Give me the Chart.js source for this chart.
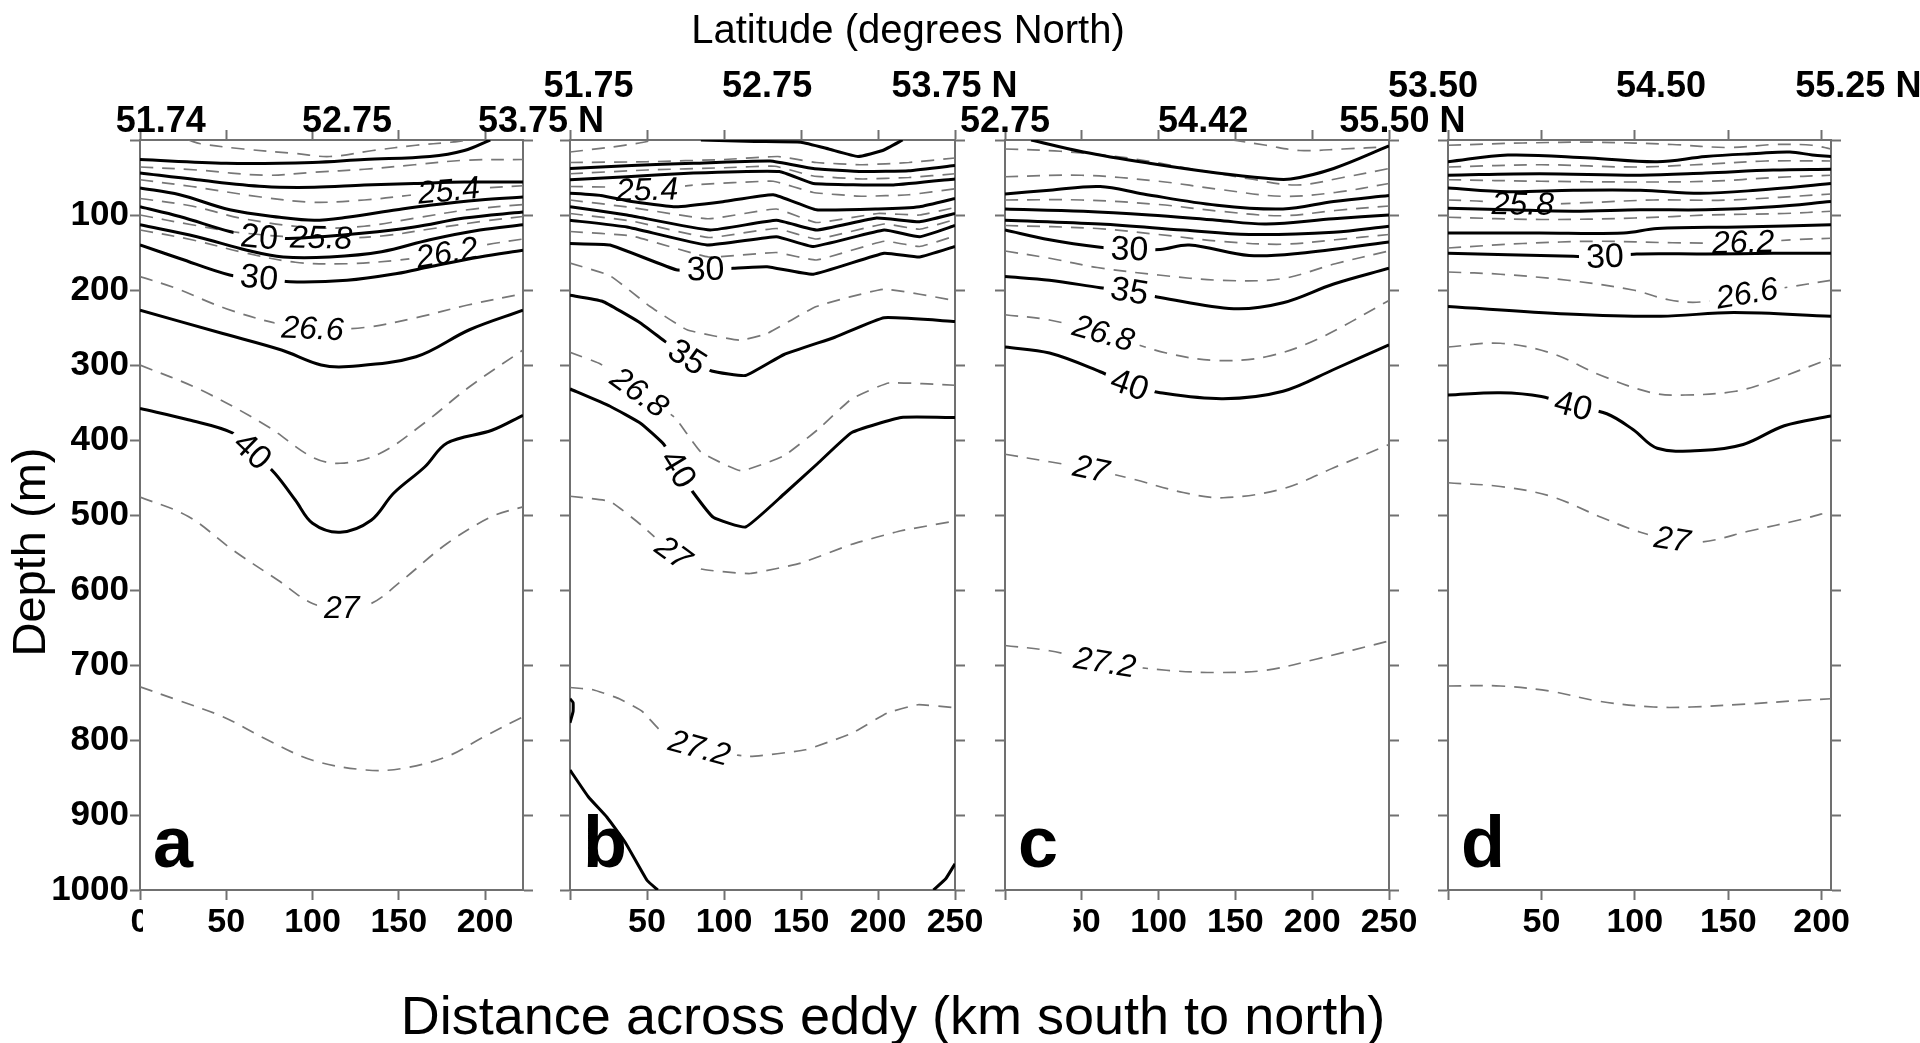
<!DOCTYPE html>
<html>
<head>
<meta charset="utf-8">
<title>Eddy sections</title>
<script src="https://cdn.jsdelivr.net/npm/chart.js@4.4.1/dist/chart.umd.min.js"></script>
<style>
  html, body { margin: 0; padding: 0; background: #fff; }
  body { width: 1920px; height: 1043px; position: relative; overflow: hidden; }
  canvas.panel { position: absolute; left: 0; top: 0; }
</style>
</head>
<body>
<script>
// ---------- values: each contour is a list of [distance km, depth m] ----------
const distTicks = [0, 50, 100, 150, 200, 250];
const depthTicks = [0, 100, 200, 300, 400, 500, 600, 700, 800, 900, 1000];
const sectionLength = [222, 250, 250, 205];
const letters = ['a', 'b', 'c', 'd'];

// latitude marks along the top of each section
const latA = ['51.74', '52.75', '53.75'], latAKm = [12, 120, 222];
const latB = ['51.75', '52.75', '53.75'], latBKm = [12, 128, 238];
const latC = ['52.75', '54.42', '55.50'], latCKm = [0, 129, 247];
const latD = ['53.50', '54.50', '55.25'], latDKm = [-8, 114, 210];

// section a
const aSolid = [
  [[0,26],[50,31],[100,30],[130,26],[168,22],[188,14],[203,0]],
  [[0,44],[33,53],[72,62],[101,63],[130,60],[159,58],[188,56],[222,56]],
  [[0,64],[23,73],[52,93],[81,103],[101,107],[120,103],[149,93],[168,87],[197,80],[222,76]],
  [[0,89],[23,102],[52,122],[69,130],[90,131],[130,124],[159,116],[188,104],[222,96]],
  [[0,113],[33,129],[62,147],[83,156],[110,156],[140,149],[168,133],[197,120],[222,113]],
  [[0,140],[23,158],[52,180],[69,184],[87,189],[120,187],[149,178],[168,169],[197,156],[222,147]],
  [[0,227],[48,258],[82,280],[105,300],[121,302],[160,289],[191,253],[222,227]],
  [[0,358],[28,373],[54,391],[65,415],[78,444],[90,480],[100,511],[116,523],[134,507],[147,471],[165,436],[178,404],[204,387],[222,367]]
];
const aDashed = [
  [[28,0],[35,5],[60,12],[90,18],[110,22],[135,14],[160,7],[180,3],[190,0]],
  [[0,36],[33,40],[72,47],[101,43],[130,39],[159,33],[188,27],[222,26]],
  [[0,53],[30,62],[70,76],[100,83],[130,80],[155,74],[179,68],[200,64],[222,61]],
  [[0,78],[30,88],[60,105],[100,117],[130,115],[160,104],[190,93],[222,86]],
  [[0,100],[30,113],[60,124],[105,131],[140,128],[170,118],[200,108],[222,102]],
  [[0,120],[30,133],[60,150],[90,163],[120,165],[150,160],[178,151],[200,140],[222,132]],
  [[0,182],[20,197],[50,225],[80,245],[100,252],[130,250],[160,237],[190,220],[222,205]],
  [[0,300],[35,333],[74,382],[100,423],[116,431],[139,418],[165,377],[191,329],[222,280]],
  [[0,476],[28,502],[54,547],[80,587],[100,618],[117,624],[134,618],[152,587],[178,538],[204,502],[222,489]],
  [[0,729],[22,747],[48,769],[74,800],[100,827],[131,840],[152,838],[178,822],[199,796],[222,769]]
];
const aSolidTags = [[3, 69, '20'], [5, 69, '30'], [7, 65, '40']];
const aDashedTags = [[2, 179, '25.4'], [4, 105, '25.8'], [5, 178, '26.2'], [6, 100, '26.6'], [8, 117, '27']];

// section b
const bSolid = [
  [[85,0],[120,2],[150,3],[168,12],[187,22],[203,14],[216,0]],
  [[0,38],[40,34],[80,31],[130,28],[158,38],[190,42],[220,41],[250,34]],
  [[0,53],[37,49],[80,44],[136,42],[158,58],[210,60],[250,52]],
  [[0,71],[20,74],[40,82],[69,89],[100,82],[132,73],[160,93],[200,92],[227,89],[250,78]],
  [[0,89],[37,100],[91,120],[134,107],[160,120],[199,104],[227,109],[250,98]],
  [[0,107],[37,116],[89,140],[134,129],[158,142],[204,120],[227,129],[250,114]],
  [[0,138],[26,140],[69,173],[88,173],[106,171],[128,169],[158,179],[204,151],[227,156],[250,142]],
  [[0,207],[21,215],[45,243],[60,266],[76,290],[92,308],[114,314],[139,286],[172,263],[204,237],[250,242]],
  [[0,332],[26,355],[46,378],[61,406],[70,439],[80,470],[93,503],[114,516],[139,472],[161,431],[183,390],[215,370],[250,370]],
  [[0,840],[12,876],[24,903],[36,937],[50,987],[57,1000]],
  [[0,745],[2,750],[2,762],[0,777]],
  [[236,1000],[244,985],[250,965]]
];
const bDashed = [
  [[0,16],[25,10],[45,4],[55,0]],
  [[0,30],[50,29],[100,26],[135,22],[160,30],[190,33],[220,30],[250,24]],
  [[0,45],[50,40],[100,37],[133,35],[158,48],[190,52],[220,50],[250,45]],
  [[0,62],[30,63],[50,67],[80,60],[132,55],[158,70],[190,75],[220,73],[250,65]],
  [[0,80],[40,90],[90,105],[134,92],[160,110],[200,98],[227,100],[250,90]],
  [[0,98],[40,108],[90,130],[134,118],[160,132],[204,112],[227,119],[250,106]],
  [[0,122],[40,128],[90,156],[134,150],[160,160],[204,135],[227,142],[250,128]],
  [[0,164],[26,181],[52,222],[76,253],[110,267],[128,258],[160,222],[204,199],[250,214]],
  [[0,283],[20,299],[45,337],[68,370],[85,416],[111,441],[139,421],[161,386],[183,345],[207,324],[250,327]],
  [[0,475],[26,482],[46,513],[67,551],[85,572],[117,578],[150,564],[183,539],[215,521],[250,508]],
  [[0,730],[15,733],[32,745],[47,762],[60,790],[84,811],[116,822],[153,813],[183,791],[206,764],[226,753],[250,757]]
];
const bSolidTags = [[6, 88, '30'], [7, 76, '35'], [8, 70, '40']];
const bDashedTags = [[3, 50, '25.4'], [8, 45, '26.8'], [9, 67, '27'], [10, 84, '27.2']];

// section c
const cSolid = [
  [[17,0],[51,16],[94,31],[138,44],[170,51],[186,52],[214,38],[250,8]],
  [[0,72],[29,67],[62,62],[90,72],[138,87],[181,92],[214,82],[250,74]],
  [[0,92],[51,95],[94,100],[138,107],[170,112],[214,105],[250,100]],
  [[0,107],[62,112],[116,120],[159,126],[214,123],[250,115]],
  [[0,120],[29,133],[62,143],[81,146],[101,146],[120,140],[159,154],[192,151],[250,136]],
  [[0,182],[29,187],[62,197],[81,202],[101,210],[149,225],[181,217],[214,192],[250,171]],
  [[0,276],[29,284],[62,309],[81,327],[101,337],[142,345],[181,335],[214,306],[250,273]]
];
const cDashed = [
  [[148,0],[170,7],[192,14],[220,12],[250,9]],
  [[0,12],[36,15],[80,24],[120,38],[160,52],[190,60],[220,50],[250,38]],
  [[0,49],[50,47],[100,55],[140,66],[180,75],[215,70],[250,58]],
  [[0,80],[50,80],[100,86],[140,95],[180,101],[215,94],[250,88]],
  [[0,114],[60,118],[100,126],[140,135],[180,139],[215,133],[250,126]],
  [[0,148],[30,158],[60,170],[100,180],[140,187],[180,185],[215,165],[250,148]],
  [[0,233],[29,240],[64,258],[105,284],[138,294],[170,289],[203,266],[250,214]],
  [[0,419],[29,429],[56,439],[83,452],[116,470],[142,477],[181,465],[214,437],[250,406]],
  [[0,674],[29,681],[65,697],[105,707],[138,710],[170,707],[203,692],[250,668]]
];
const cSolidTags = [[4, 81, '30'], [5, 81, '35'], [6, 81, '40']];
const cDashedTags = [[6, 64, '26.8'], [7, 56, '27'], [8, 65, '27.2']];

// section d
const dSolid = [
  [[0,29],[32,20],[76,24],[112,29],[138,22],[165,18],[183,16],[195,20],[205,22]],
  [[0,47],[49,45],[103,47],[138,44],[174,40],[205,39]],
  [[0,64],[32,69],[67,67],[103,67],[135,71],[165,67],[205,58]],
  [[0,91],[32,93],[67,95],[103,93],[138,93],[174,89],[205,82]],
  [[0,124],[49,124],[94,124],[112,118],[156,116],[205,113]],
  [[0,151],[32,153],[67,155],[84,156],[101,152],[138,152],[174,151],[205,151]],
  [[0,222],[64,232],[114,235],[153,230],[205,235]],
  [[0,340],[28,337],[50,342],[67,355],[85,365],[99,386],[112,411],[135,414],[158,406],[180,381],[205,368]]
];
const dDashed = [
  [[0,7],[40,4],[80,3],[120,6],[150,10],[175,6],[195,7],[205,12]],
  [[0,36],[50,33],[100,36],[140,32],[170,28],[205,28]],
  [[0,53],[50,55],[100,56],[140,55],[175,50],[205,47]],
  [[0,80],[20,82],[40,86],[70,84],[110,80],[150,80],[205,72]],
  [[0,103],[50,106],[100,104],[140,100],[180,98],[205,95]],
  [[0,144],[40,138],[80,135],[120,137],[158,137],[185,133],[205,131]],
  [[0,176],[28,179],[64,187],[99,200],[118,213],[135,216],[160,205],[180,197],[205,187]],
  [[0,276],[28,271],[55,284],[82,314],[109,337],[127,340],[154,335],[172,322],[205,291]],
  [[0,457],[28,462],[55,475],[82,503],[103,523],[120,533],[136,536],[162,521],[189,506],[205,495]],
  [[0,728],[28,728],[55,735],[80,748],[110,756],[130,756],[160,752],[190,747],[205,745]]
];
const dSolidTags = [[5, 84, '30'], [7, 67, '40']];
const dDashedTags = [[3, 40, '25.8'], [5, 158, '26.2'], [6, 160, '26.6'], [8, 120, '27']];

// ---------- layout ----------
const W = 1920, H = 1043;
const TOP = 140, BOTTOM = 890;
const BOX = { left: 130, right: 12, top: 12, bottom: 60 };   // axis box sizes, labels must fit inside
const FRAME = '#707070';
const FONT = '"Liberation Sans", Arial, Helvetica, sans-serif';

const panels = [
  { solid: aSolid, dashed: aDashed, solidTags: aSolidTags, dashedTags: aDashedTags, lat: latA, latKm: latAKm,
    len: sectionLength[0], letter: letters[0], row: 'low', left: 140, right: 523, tension: 0.35,
    depthLabels: true, hideZero: false, cut: [0, 3, 14], titles: true },
  { solid: bSolid, dashed: bDashed, solidTags: bSolidTags, dashedTags: bDashedTags, lat: latB, latKm: latBKm,
    len: sectionLength[1], letter: letters[1], row: 'up', left: 570, right: 955, tension: 0.12,
    depthLabels: false, hideZero: true, cut: null, titles: false },
  { solid: cSolid, dashed: cDashed, solidTags: cSolidTags, dashedTags: cDashedTags, lat: latC, latKm: latCKm,
    len: sectionLength[2], letter: letters[2], row: 'low', left: 1005, right: 1389, tension: 0.35,
    depthLabels: false, hideZero: true, cut: [50, -21, -8], titles: false },
  { solid: dSolid, dashed: dDashed, solidTags: dSolidTags, dashedTags: dDashedTags, lat: latD, latKm: latDKm,
    len: sectionLength[3], letter: letters[3], row: 'up', left: 1448, right: 1831, tension: 0.35,
    depthLabels: false, hideZero: true, cut: null, titles: false }
];

// where a tag sits on its contour, and the contour's direction there
function tagSpot(chart, t) {
  const meta = chart.getDatasetMeta(t.ds);
  const src = chart.data.datasets[t.ds].data;
  const i = src.findIndex(p => p.x === t.km);
  if (i < 0 || !meta.data[i]) return null;
  const pts = meta.data;
  const prev = pts[Math.max(i - 1, 0)], next = pts[Math.min(i + 1, pts.length - 1)];
  return { x: pts[i].x, y: pts[i].y, a: Math.atan2(next.y - prev.y, next.x - prev.x) };
}

function tagFont(t) {
  return t.italic ? 'italic 32px ' + FONT : '34px ' + FONT;
}

// contour labels: cut a gap in the line, then write the value along it
const contourTags = {
  id: 'contourTags',
  beforeDatasetDraw(chart, args, opts) {
    const tags = opts.items.filter(t => t.ds === args.index);
    if (!tags.length) return;
    const ctx = chart.ctx;
    ctx.save();
    ctx.beginPath();
    ctx.rect(0, 0, chart.width, chart.height);
    tags.forEach(t => {
      const s = tagSpot(chart, t);
      if (!s) return;
      ctx.font = tagFont(t);
      const hw = ctx.measureText(t.text).width / 2 + 7, hh = 15;
      const c = Math.cos(s.a), sn = Math.sin(s.a);
      [[-hw, -hh], [hw, -hh], [hw, hh], [-hw, hh]].forEach(([u, v], k) => {
        const X = s.x + u * c - v * sn, Y = s.y + u * sn + v * c;
        if (k) ctx.lineTo(X, Y); else ctx.moveTo(X, Y);
      });
      ctx.closePath();
    });
    ctx.clip('evenodd');
    chart.$tagClip = true;
  },
  afterDatasetDraw(chart) {
    if (chart.$tagClip) {
      chart.ctx.restore();
      chart.$tagClip = false;
    }
  },
  afterDatasetsDraw(chart, args, opts) {
    const ctx = chart.ctx;
    opts.items.forEach(t => {
      const s = tagSpot(chart, t);
      if (!s) return;
      ctx.save();
      ctx.translate(s.x, s.y);
      ctx.rotate(s.a);
      ctx.font = tagFont(t);
      ctx.fillStyle = '#000';
      ctx.textAlign = 'center';
      ctx.textBaseline = 'middle';
      ctx.fillText(t.text, 0, 1);
      ctx.restore();
    });
  }
};

// latitude row, panel letter, figure titles
const sectionDecor = {
  id: 'sectionDecor',
  afterDraw(chart, args, o) {
    const ctx = chart.ctx, area = chart.chartArea, xs = chart.scales.x;
    ctx.save();
    if (o.cut) {
      const px = xs.getPixelForValue(o.cut[0]);
      ctx.fillStyle = '#fff';
      ctx.fillRect(px + o.cut[1], area.bottom + 12, o.cut[2] - o.cut[1], 40);
    }
    ctx.fillStyle = '#000';
    ctx.textBaseline = 'alphabetic';
    ctx.textAlign = 'left';
    ctx.font = 'bold 36px ' + FONT;
    const base = o.row === 'up' ? area.top - 43 : area.top - 8;
    o.lat.forEach((t, i) => {
      const cx = xs.getPixelForValue(o.latKm[i]);
      const w = ctx.measureText(t).width;
      ctx.fillText(i === o.lat.length - 1 ? t + ' N' : t, cx - w / 2, base);
    });
    ctx.font = 'bold 72px ' + FONT;
    ctx.fillText(o.letter, area.left + 13, area.bottom - 23);
    if (o.titles) {
      ctx.textAlign = 'center';
      ctx.font = '40px ' + FONT;
      ctx.fillText('Latitude (degrees North)', 908, 43);
      ctx.font = '54px ' + FONT;
      ctx.fillText('Distance across eddy (km south to north)', 893, 1034);
      ctx.translate(45, 552);
      ctx.rotate(-Math.PI / 2);
      ctx.font = '47px ' + FONT;
      ctx.fillText('Depth (m)', 0, 0);
    }
    ctx.restore();
  }
};

function scale(position, max, values, opts) {
  const vertical = position === 'left' || position === 'right';
  return {
    type: 'linear',
    position,
    min: 0,
    max,
    reverse: vertical,
    afterBuildTicks: s => { s.ticks = values.filter(v => v <= max + 0.5).map(v => ({ value: v })); },
    afterFit: s => { if (vertical) s.width = BOX[position]; else s.height = BOX[position]; },
    ticks: {
      display: !!opts.labels,
      callback: opts.labels || (() => ''),
      font: { family: FONT, size: opts.size || 34, weight: 'bold' },
      color: '#000',
      padding: opts.pad || 2,
      autoSkip: false,
      maxRotation: 0,
      minRotation: 0
    },
    grid: { drawOnChartArea: false, drawTicks: true, tickLength: 10, tickWidth: 2, tickColor: FRAME },
    border: { display: true, color: FRAME, width: 2 }
  };
}

function buildPanel(p) {
  const canvas = document.createElement('canvas');
  canvas.className = 'panel';
  canvas.width = W;
  canvas.height = H;
  document.body.appendChild(canvas);

  const asPoints = line => line.map(([x, y]) => ({ x, y }));
  const datasets = [];
  p.solid.forEach(line => datasets.push({
    data: asPoints(line), borderColor: '#000', borderWidth: 3, pointRadius: 0,
    tension: p.tension, fill: false
  }));
  p.dashed.forEach(line => datasets.push({
    data: asPoints(line), borderColor: '#777', borderWidth: 1.7, borderDash: [13, 9], pointRadius: 0,
    tension: p.tension, fill: false
  }));
  const items = [
    ...p.solidTags.map(([i, km, text]) => ({ ds: i, km, text, italic: false })),
    ...p.dashedTags.map(([i, km, text]) => ({ ds: p.solid.length + i, km, text, italic: true }))
  ];

  new Chart(canvas, {
    type: 'line',
    data: { datasets },
    options: {
      responsive: false,
      animation: false,
      devicePixelRatio: 1,
      events: [],
      layout: {
        padding: {
          left: p.left - BOX.left,
          right: W - p.right - BOX.right,
          top: TOP - BOX.top,
          bottom: H - BOTTOM - BOX.bottom
        }
      },
      plugins: {
        legend: { display: false },
        tooltip: { enabled: false },
        contourTags: { items },
        sectionDecor: { lat: p.lat, latKm: p.latKm, row: p.row, letter: p.letter, cut: p.cut, titles: p.titles }
      },
      scales: {
        x: scale('bottom', p.len, distTicks, { labels: v => (p.hideZero && v === 0 ? '' : String(v)) }),
        xTop: scale('top', p.len, distTicks, {}),
        y: scale('left', 1000, depthTicks, p.depthLabels ? { labels: v => (v === 0 ? '' : String(v)), size: 35, pad: 1 } : {}),
        yRight: scale('right', 1000, depthTicks, {})
      }
    },
    plugins: [contourTags, sectionDecor]
  });
}

panels.forEach(buildPanel);
</script>
</body>
</html>
